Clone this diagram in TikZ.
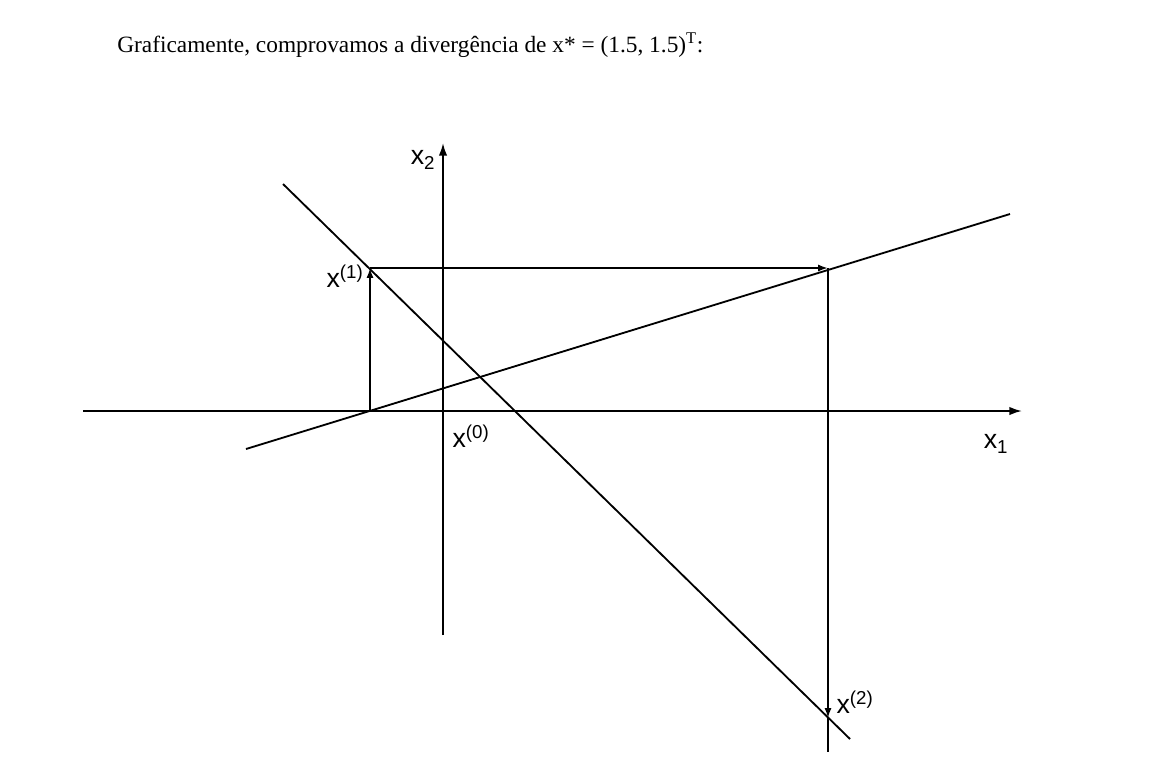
\documentclass[tikz,border=0pt]{standalone}
\usepackage{fontspec}
\setmainfont{Liberation Serif}
\setsansfont{Liberation Sans}
\usetikzlibrary{arrows.meta}
\tikzset{
  axis/.style={line width=1.3pt,-{Latex[length=9pt,width=6pt]}},
  iter/.style={line width=1.3pt,-{Latex[length=7pt,width=5pt]}},
  reta/.style={line width=1.3pt},
  rotulo/.style={font=\sffamily\fontsize{19}{21}\selectfont,inner sep=0pt}
}
\begin{document}
\begin{tikzpicture}[x=0.025cm,y=-0.025cm]
\useasboundingbox (0,0) rectangle (1164,772);
\node[anchor=west,inner sep=0pt,font=\fontsize{16.6}{20}\selectfont] (titulo) at (117,45)
  {Graficamente, comprovamos a divergência de x* = (1.5, 1.5)\textsuperscript{T}:};
% eixos
\coordinate (O) at (443,411);
\coordinate (xesq) at (83,411);
\coordinate (xdir) at (1022,411);
\coordinate (ybaixo) at (443,635);
\coordinate (ytopo) at (443,143);
\draw[axis] (xesq) -- (xdir);
\draw[axis] (ybaixo) -- (ytopo);
% retas
\coordinate (a1) at (283,184);
\coordinate (a2) at (850,739);
\coordinate (b1) at (246,449);
\coordinate (b2) at (1010,214);
\draw[reta] (a1) -- (a2);
\draw[reta] (b1) -- (b2);
% iteracoes
\coordinate (p0) at (370,411);
\coordinate (p1) at (370,268);
\coordinate (q1) at (828,268);
\coordinate (p2) at (828,718);
\coordinate (fim) at (828,752);
\draw[iter] (p0) -- (p1);
\draw[iter] (p1) -- (q1);
\draw[iter] (q1) -- (p2);
\draw[reta] (p2) -- (fim);
% rotulos
\node[rotulo] (lx2) at (423,160) {x\textsubscript{2}};
\node[rotulo] (lx1) at (996,444) {x\textsubscript{1}};
\node[rotulo] (l0) at (471,436) {x\textsuperscript{(0)}};
\node[rotulo] (l1) at (345,276) {x\textsuperscript{(1)}};
\node[rotulo] (l2) at (855,702) {x\textsuperscript{(2)}};
\end{tikzpicture}
\end{document}
